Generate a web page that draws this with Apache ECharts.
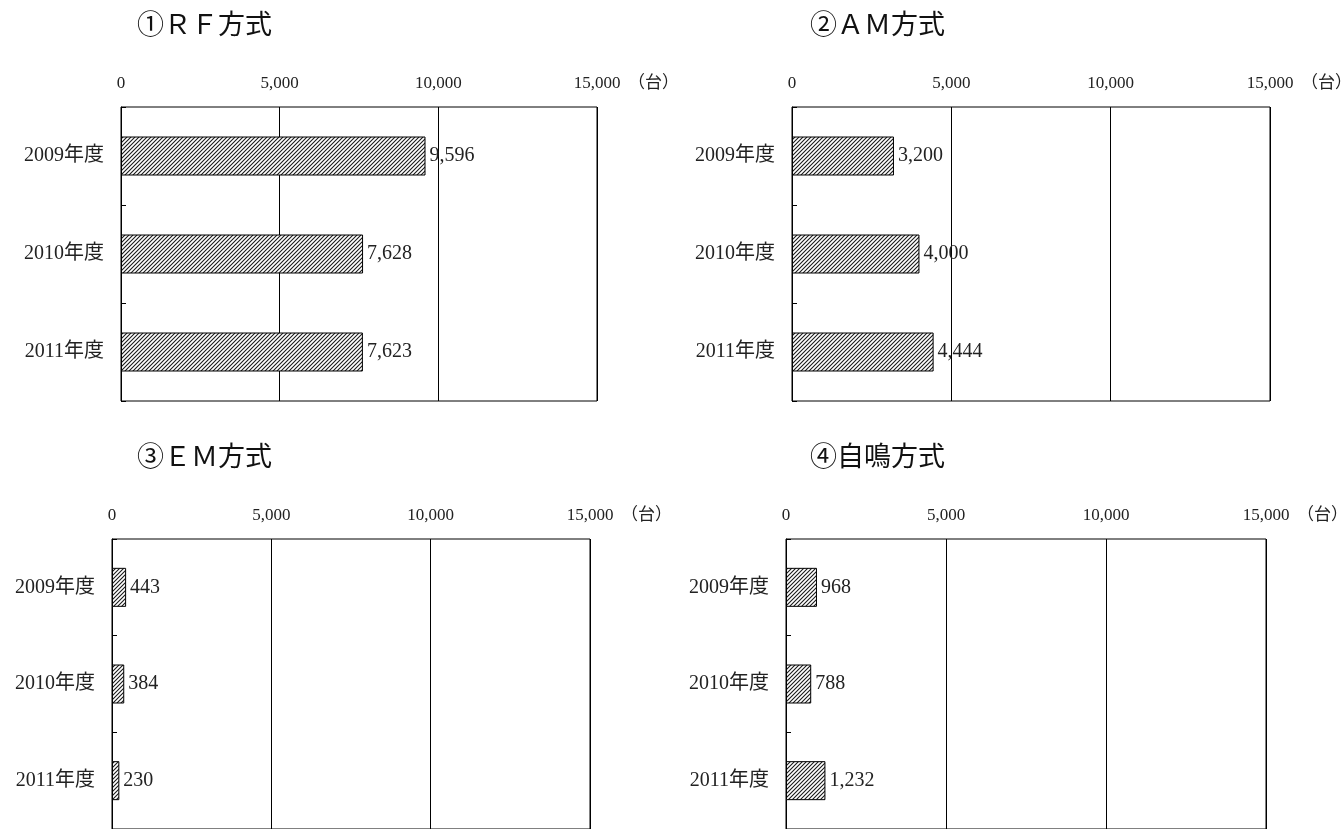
<!DOCTYPE html>
<html>
<head>
<meta charset="utf-8">
<script src="https://cdn.jsdelivr.net/npm/echarts@6/dist/echarts.min.js"></script>
<style>
html,body{margin:0;padding:0;background:#fff;}
#main{width:1344px;height:829px;}
</style>
</head>
<body>
<div id="main"></div>
<script>
const categories = ['2009年度', '2010年度', '2011年度'];
const rfValues = [9596, 7628, 7623];
const amValues = [3200, 4000, 4444];
const emValues = [443, 384, 230];
const selfValues = [968, 788, 1232];
const tickLabels = ['0', '5,000', '10,000', '15,000'];
const panelTitles = ['①ＲＦ方式', '②ＡＭ方式', '③ＥＭ方式', '④自鳴方式'];
const unitLabel = '（台）';

const FONT = '"Liberation Serif", "Noto Sans CJK JP", serif';

function hatch() {
  const c = document.createElement('canvas');
  c.width = 4; c.height = 4;
  const g = c.getContext('2d');
  g.fillStyle = '#fff';
  g.fillRect(0, 0, 4, 4);
  g.strokeStyle = '#1a1a1a';
  g.lineWidth = 1.1;
  g.beginPath();
  g.moveTo(-1, 5); g.lineTo(5, -1);
  g.moveTo(-1, 1); g.lineTo(1, -1);
  g.moveTo(3, 5); g.lineTo(5, 3);
  g.stroke();
  return c;
}
const pattern = { image: hatch(), repeat: 'repeat' };

const grids = [
  { left: 121, top: 107, width: 476, height: 294 },
  { left: 792, top: 107, width: 478, height: 294 },
  { left: 112, top: 539, width: 478, height: 294 },
  { left: 786, top: 539, width: 480, height: 294 }
];
const titlePos = [
  { left: 137, top: 13 },
  { left: 810, top: 13 },
  { left: 137, top: 445 },
  { left: 810, top: 445 }
];
const seriesData = [rfValues, amValues, emValues, selfValues];

const option = {
  backgroundColor: '#fff',
  animation: false,
  textStyle: { fontFamily: FONT },
  title: panelTitles.map((t, i) => ({
    text: t,
    left: titlePos[i].left,
    top: titlePos[i].top,
    padding: 0,
    textStyle: { fontFamily: FONT, fontSize: 27, fontWeight: 'normal', color: '#111' }
  })),
  grid: grids.map(g => Object.assign({ show: true, borderColor: '#000', borderWidth: 1, backgroundColor: 'transparent' }, g)),
  xAxis: grids.map((g, i) => ({
    type: 'value',
    gridIndex: i,
    position: 'top',
    min: 0,
    max: 15000,
    interval: 5000,
    axisLine: { show: false },
    axisTick: { show: false },
    splitLine: { show: true, lineStyle: { color: '#000', width: 1 } },
    axisLabel: {
      margin: 15,
      fontFamily: FONT,
      fontSize: 17,
      color: '#222',
      formatter: v => tickLabels[Math.round(v / 5000)]
    }
  })),
  yAxis: grids.map((g, i) => ({
    type: 'category',
    gridIndex: i,
    data: categories,
    inverse: true,
    axisLine: { show: true, lineStyle: { color: '#000', width: 1 } },
    axisTick: { show: true, inside: true, length: 5, lineStyle: { color: '#000' } },
    axisLabel: { margin: 17, fontFamily: FONT, fontSize: 20, color: '#222' }
  })),
  series: seriesData.map((d, i) => ({
    type: 'bar',
    xAxisIndex: i,
    yAxisIndex: i,
    data: d,
    barWidth: 39,
    itemStyle: { color: pattern, borderColor: '#000', borderWidth: 1 },
    label: {
      show: true,
      position: 'right',
      distance: 4,
      fontFamily: FONT,
      fontSize: 20,
      color: '#222',
      formatter: p => p.value.toLocaleString('en-US')
    }
  })),
  graphic: grids.map((g, i) => ({
    type: 'text',
    left: g.left + g.width + 31,
    top: g.top - 32,
    style: { text: unitLabel, font: '17px ' + FONT, fill: '#222' }
  }))
};

const chart = echarts.init(document.getElementById('main'));
chart.setOption(option);
</script>
</body>
</html>
